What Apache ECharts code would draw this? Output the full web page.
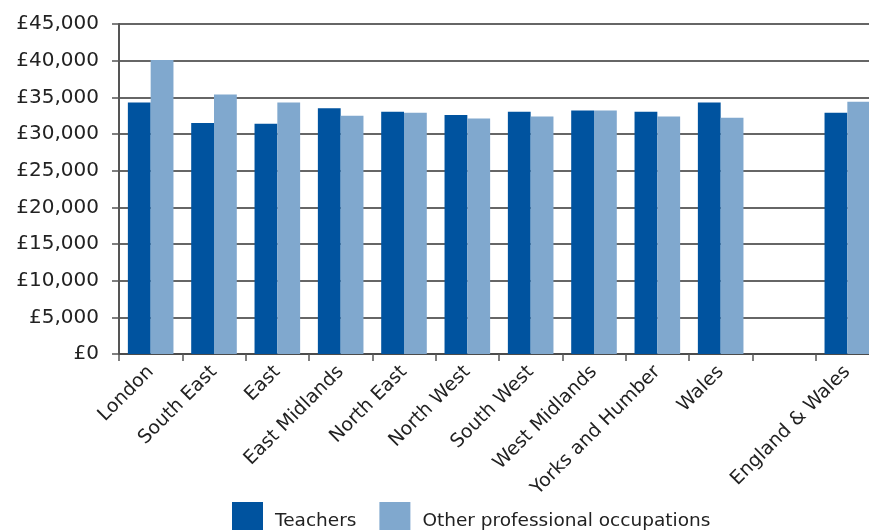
<!DOCTYPE html>
<html>
<head>
<meta charset="utf-8">
<script src="https://cdn.jsdelivr.net/npm/echarts@6/dist/echarts.min.js"></script>
<style>
  html, body { margin: 0; padding: 0; background: #fff; }
  #chart { width: 869px; height: 530px; }
</style>
</head>
<body>
<div id="chart"></div>
<script>
// Average salaries by region; the blank slot separates the regions from the total
const regions = ['London', 'South East', 'East', 'East Midlands', 'North East', 'North West',
  'South West', 'West Midlands', 'Yorks and Humber', 'Wales', '', 'England & Wales'];
const teachers = [34300, 31500, 31400, 33500, 33050, 32600, 33050, 33200, 33050, 34300, null, 32900];
const otherProfessional = [40100, 35400, 34300, 32500, 32900, 32100, 32400, 33200, 32400, 32200, null, 34400];
const seriesNames = ['Teachers', 'Other professional occupations'];

const FONT = '"DejaVu Sans", sans-serif';
const DARK = '#00539F';
const LIGHT = '#80A8CE';

const chart = echarts.init(document.getElementById('chart'), null, { renderer: 'canvas' });
chart.setOption({
  animation: false,
  backgroundColor: '#fff',
  // plot area runs slightly past the right edge of the canvas
  grid: { left: 119, top: 24, height: 330, width: 760, containLabel: false, outerBoundsMode: 'none' },
  legend: {
    left: 232,
    top: 502,
    padding: 0,
    itemWidth: 31,
    itemHeight: 38,
    itemGap: 23,
    icon: 'rect',
    data: seriesNames,
    textStyle: { fontFamily: FONT, fontSize: 18.5, color: '#222', padding: [0, 0, 0, 7] }
  },
  xAxis: {
    type: 'category',
    data: regions,
    boundaryGap: true,
    axisLine: { lineStyle: { color: '#444', width: 1.5 } },
    axisTick: { show: true, length: 7, lineStyle: { color: '#555', width: 1.5 } },
    axisLabel: {
      rotate: 45,
      interval: 0,
      margin: 15,
      fontFamily: FONT,
      fontSize: 19,
      color: '#222'
    }
  },
  yAxis: {
    type: 'value',
    min: 0,
    max: 45000,
    interval: 5000,
    axisLine: { show: true, lineStyle: { color: '#555', width: 2 } },
    axisTick: { show: true, length: 7, lineStyle: { color: '#555', width: 1.5 } },
    splitLine: { show: true, lineStyle: { color: '#333', width: 1.5 } },
    axisLabel: {
      margin: 20,
      fontFamily: FONT,
      fontSize: 20,
      color: '#222',
      formatter: v => '£' + v.toLocaleString('en-GB')
    }
  },
  series: [
    {
      name: seriesNames[0],
      type: 'bar',
      data: teachers,
      barGap: '0%',
      barCategoryGap: '28%',
      itemStyle: { color: DARK }
    },
    {
      name: seriesNames[1],
      type: 'bar',
      data: otherProfessional,
      barGap: '0%',
      barCategoryGap: '28%',
      itemStyle: { color: LIGHT }
    }
  ]
});
</script>
</body>
</html>
